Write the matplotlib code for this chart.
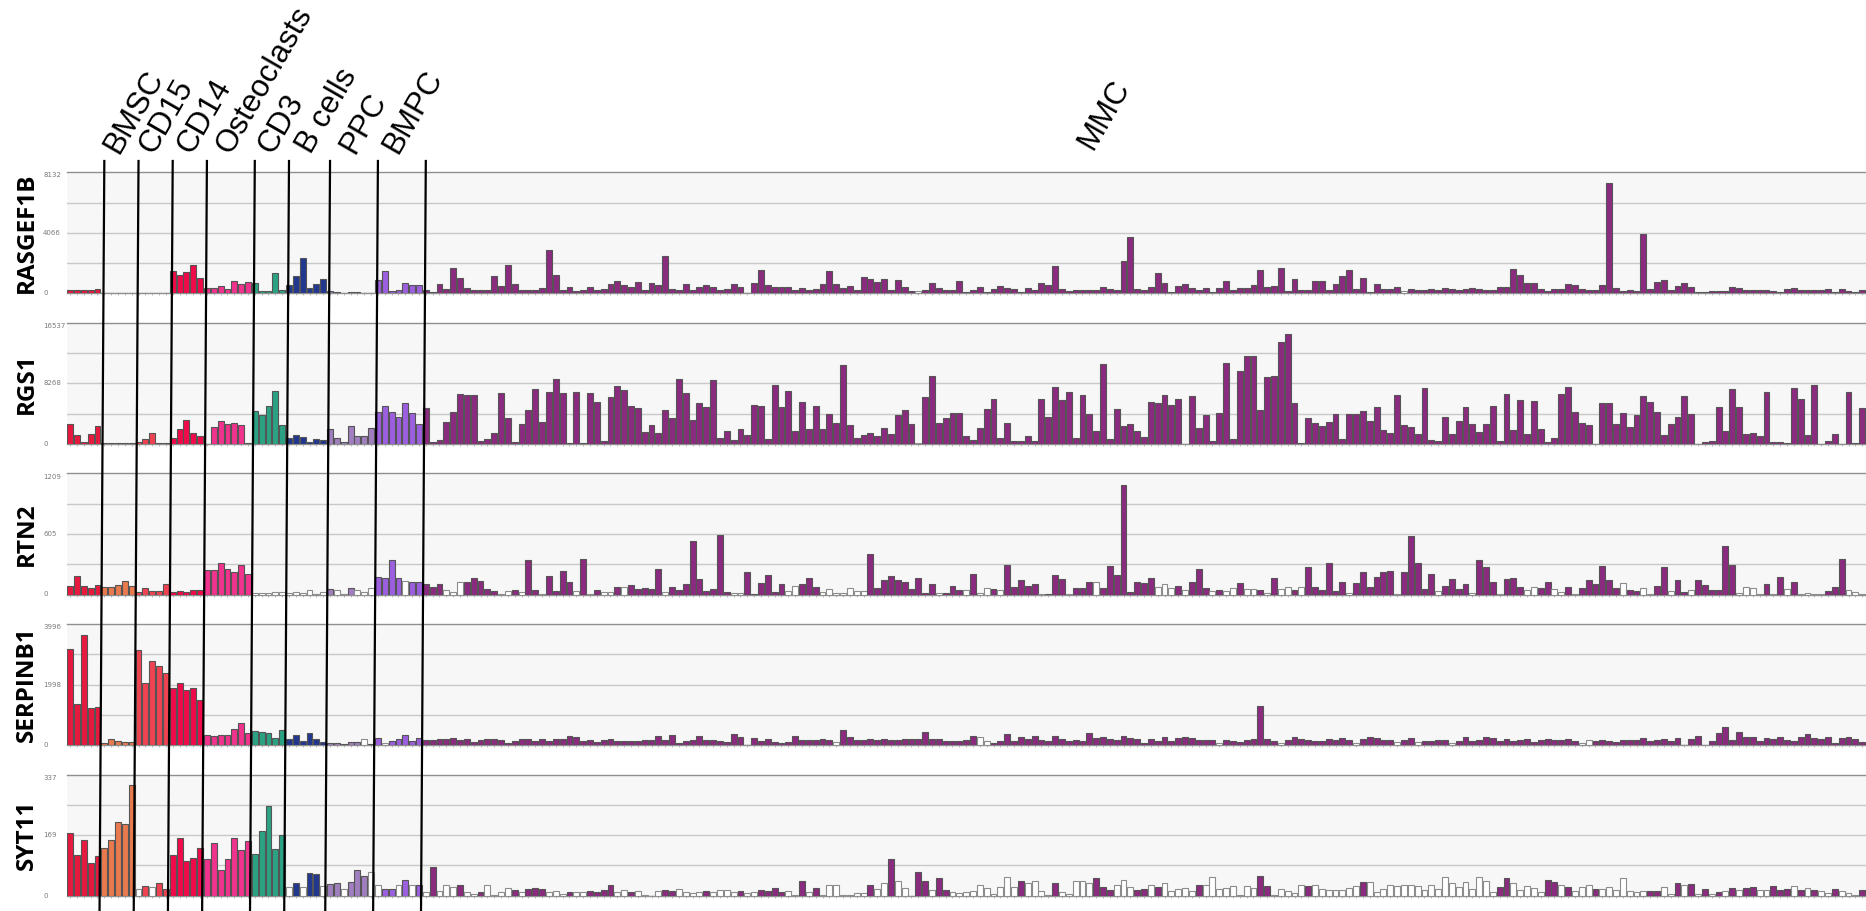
import numpy as np
import matplotlib
matplotlib.use('Agg')
import matplotlib.pyplot as plt
from matplotlib.transforms import blended_transform_factory
from matplotlib.lines import Line2D

# ---------------- data ----------------
genes = ["RASGEF1B", "RGS1", "RTN2", "SERPINB1", "SYT11"]
y_max = [8132, 16537, 1209, 3996, 337]
y_mid_label = ["4066", "8268", "605", "1998", "169"]
y_top_label = ["8132", "16537", "1209", "3996", "337"]

group_names = ["", "BMSC", "CD15", "CD14", "Osteoclasts", "CD3", "B cells", "PPC", "BMPC", "MMC"]
group_sizes = [5, 5, 5, 5, 7, 5, 6, 7, 7, 211]
group_colors = ["#E8193E", "#E97A4E", "#F04352", "#F00A4A", "#F0338C",
                "#2BA383", "#22388F", "#A07FBE", "#9C5FE0", "#8A2B7F"]

RASGEF1B = [225, 200, 200, 225, 290, 40, 15, 15, 15, 15, 20, 45, 25, 45, 25,
            1530, 1240, 1400, 1935, 1060, 380, 360, 495, 315, 830, 650, 765,
            700, 160, 160, 1370, 225, 540, 1190, 2385, 340, 650, 970,
            160, 90, 10, 70, 70, 20, 20, 920, 1530, 160, 225, 675, 560, 560,
            250, 60, 630, 280, 1730, 1000, 350, 190, 220, 220, 1130, 500, 1920, 630, 220, 190, 220, 350, 2890, 1260,
            220, 410, 160, 220, 410, 190, 280, 600, 850, 570, 440, 750, 220, 660, 530, 2510, 280, 190, 630, 250,
            440, 530, 410, 190, 280, 630, 410, 30, 690, 1570, 530, 440, 440,
            440, 250, 380, 220, 280, 600, 1510, 630, 380, 500, 220, 1100, 970, 750, 940, 190, 880, 410, 160, 160,
            220, 720, 380, 190, 220, 820, 60, 220, 410, 60, 310, 500, 350, 280, 90, 350, 190, 690, 530, 1820,
            280, 130, 190, 250, 250, 220, 440, 310, 190, 2140, 3770, 280, 190, 410,
            1380, 690, 60, 470, 600, 350, 190, 350, 60, 350, 850, 190, 350, 350, 570, 1540, 410, 500, 1730, 130,
            970, 250, 190, 820, 820, 220, 630, 1160, 1570, 310, 1040, 90, 600, 310, 310, 410, 160, 280, 220, 220,
            310, 190, 380, 310, 190, 310, 350, 280, 190, 220, 440, 440, 1600,
            1220, 660, 690, 280, 160, 310, 280, 600, 530, 280, 190, 220, 570, 7410, 350, 160, 190, 160, 3990, 280,
            750, 880, 190, 500, 660, 440, 90, 90, 160, 130, 130, 410, 350, 190, 190, 250, 190, 160, 90, 280,
            350, 220, 220, 220, 220, 280, 60, 280, 160, 90, 190]

RGS1 = [2680, 1180, 320, 1410, 2410, 90, 90, 90, 90, 90, 270, 730, 1450, 140, 180,
        860, 2090, 3310, 1450, 1090, 45, 2360, 3180, 2680, 2910, 2590, 90,
        4540, 4000, 5180, 7260, 2590, 860, 1270, 950, 320, 730, 500,
        2090, 860, 320, 2500, 1140, 1140, 2220, 4360, 5220, 4400, 3630, 5630, 4220, 2680,
        4920, 320, 510, 2940, 4410, 6830, 6700, 6700, 450, 640, 1530, 6960, 3510, 320, 2680, 4660, 7530, 2940, 7150, 8880,
        7020, 130, 7090, 130, 7020, 5750, 450, 6450, 7920, 7340, 5170, 4920, 1660, 2620, 1530, 4600, 3510, 8810, 6900, 3260,
        5620, 4980, 8750, 830, 1790, 510, 1980, 1280, 5360, 5170, 640, 8050, 4980,
        7220, 1790, 5750, 2040, 5170, 2040, 4150, 2810, 10730, 2620, 770, 1280, 1530, 1020, 2170, 1400, 3890, 4660, 2680, 60,
        6450, 9260, 2810, 3510, 4280, 4280, 1090, 510, 2170, 4790, 6070, 830, 2810, 380, 380, 1090, 450, 6190, 3700, 7730,
        6000, 7090, 830, 6700, 4020, 1790, 10980, 700, 4790, 2490, 2750, 1720, 960, 5750,
        5550, 6640, 5300, 6130, 0, 6510, 2230, 3890, 450, 4280, 11110, 640, 9960, 12000, 12000, 4660, 9130, 9320, 13980, 15070,
        5620, 60, 3510, 2810, 2490, 3000, 4150, 640, 4090, 4090, 4470, 3190, 5040, 1850, 1470, 6640, 2550, 2360, 1400, 7660,
        570, 380, 3700, 1340, 3190, 5040, 2750, 1660, 2680, 5170, 450, 6770, 1920,
        6000, 1340, 5810, 1980, 320, 770, 6830, 7790, 4410, 2810, 2550, 0, 5550, 5550, 2750, 4280, 2300, 3890, 6510, 5750,
        4410, 1150, 2750, 3640, 6510, 4020, 0, 260, 450, 5040, 1790, 7470, 5040, 1400, 1470, 1090, 7090, 260, 320, 130,
        7660, 6070, 1150, 8050, 0, 380, 1340, 0, 7090, 130, 4850]

RTN2 = [87, 186, 80, 63, 90, 70, 70, 97, 130, 80, 27, 63, 37, 30, 103,
        20, 37, 20, 43, 43, 240, 240, 313, 253, 226, 290, 200,
        17, 17, 17, 20, 27, 10, 20, 10, 40, 7, 23,
        53, 43, 3, 63, 40, 23, 60, 170, 163, 343, 166, 130, 127, 123,
        107, 70, 103, 42, 23, 121, 121, 168, 131, 51, 37, 9, 33, 47, 28, 345, 47, 9, 187, 37,
        233, 121, 33, 355, 5, 42, 28, 28, 75, 75, 93, 56, 61, 56, 257, 28, 75, 47, 103, 532,
        159, 33, 51, 593, 23, 19, 19, 229, 9, 117, 196, 23, 103,
        33, 89, 103, 168, 75, 28, 51, 19, 19, 61, 33, 33, 406, 65, 140, 187, 140, 121, 56, 168,
        19, 107, 19, 19, 84, 42, 42, 201, 19, 61, 51, 47, 299, 79, 149, 84, 103, 9, 5, 191,
        159, 5, 61, 61, 121, 121, 61, 280, 196, 1097, 28, 126, 112, 168,
        70, 103, 61, 89, 42, 121, 257, 65, 33, 42, 33, 65, 117, 56, 51, 42, 19, 163, 51, 79,
        42, 79, 275, 75, 47, 317, 37, 121, 19, 112, 224, 79, 177, 224, 238, 5, 229, 588, 317, 56,
        201, 33, 84, 154, 51, 107, 19, 341, 275, 121, 5, 159, 163,
        79, 42, 70, 65, 126, 51, 28, 75, 5, 61, 140, 107, 289, 145, 61, 112, 47, 37, 65, 9,
        84, 275, 33, 149, 23, 42, 145, 93, 42, 47, 481, 294, 19, 79, 65, 9, 107, 5, 177, 51,
        126, 9, 14, 5, 5, 33, 79, 355, 42, 28, 9]

SERPINB1 = [3175, 1370, 3645, 1240, 1270, 65, 185, 120, 100, 100, 3140, 2060, 2780, 2600, 2390,
            1895, 2035, 1805, 1895, 1480, 350, 285, 350, 350, 525, 735, 385,
            470, 440, 385, 250, 515, 210, 350, 140, 405, 195, 110,
            55, 75, 45, 100, 110, 185, 45, 220, 75, 120, 185, 320, 140, 220,
            170, 170, 200, 215, 245, 170, 215, 110, 170, 200, 215, 170, 75, 140, 200, 200, 140, 200, 140, 200,
            200, 295, 275, 140, 170, 110, 170, 215, 140, 140, 140, 140, 170, 170, 295, 170, 325, 60, 140, 170,
            295, 170, 170, 140, 110, 355, 275, 15, 245, 140, 200, 110, 75,
            110, 295, 170, 170, 170, 200, 170, 110, 495, 275, 170, 170, 215, 170, 200, 170, 170, 200, 215, 215,
            430, 200, 215, 140, 140, 140, 170, 295, 275, 140, 60, 140, 355, 140, 275, 200, 295, 170, 140, 295,
            200, 140, 170, 140, 415, 245, 275, 215, 170, 295, 245, 215, 60, 185,
            140, 275, 140, 245, 260, 245, 170, 170, 170, 75, 170, 140, 110, 170, 215, 1295, 200, 140, 60, 170,
            275, 200, 170, 140, 140, 200, 170, 230, 170, 75, 200, 275, 245, 170, 170, 110, 170, 245, 110, 140,
            140, 170, 170, 60, 140, 275, 140, 170, 275, 245, 140, 215, 140,
            170, 200, 110, 170, 215, 170, 155, 200, 140, 60, 155, 140, 170, 140, 110, 155, 170, 155, 245, 140,
            170, 215, 140, 245, 15, 215, 295, 15, 140, 415, 600, 170, 430, 275, 275, 140, 245, 215, 275, 170,
            140, 275, 355, 245, 200, 275, 60, 245, 275, 200, 110]

SYT11 = [176, 114, 156, 92, 110, 134, 156, 206, 201, 307, 19, 28, 24, 36, 19,
         114, 160, 97, 104, 133, 101, 148, 72, 103, 161, 128, 153,
         117, 179, 251, 131, 168, 23, 34, 24, 64, 61, 28,
         33, 36, 19, 38, 72, 56, 67, 30, 19, 19, 30, 45, 30, 30,
         9, 81, 12, 29, 25, 29, 9, 5, 9, 29, 3, 9, 22, 16, 9, 18, 21, 20, 9, 12,
         5, 9, 9, 9, 12, 9, 16, 29, 9, 16, 9, 12, 3, 0, 12, 16, 12, 20, 9, 7,
         9, 12, 9, 16, 16, 9, 12, 7, 9, 16, 12, 21, 9,
         14, 3, 42, 9, 22, 3, 31, 29, 3, 3, 7, 7, 31, 20, 35, 103, 40, 22, 0, 65,
         42, 16, 48, 17, 9, 7, 9, 13, 31, 22, 5, 25, 51, 25, 42, 35, 42, 14, 3, 35,
         9, 5, 42, 42, 35, 48, 25, 16, 31, 44, 25, 16, 20, 31,
         24, 34, 12, 20, 22, 13, 31, 30, 51, 20, 22, 26, 3, 26, 22, 55, 27, 3, 18, 13,
         7, 29, 26, 31, 20, 17, 17, 17, 22, 26, 39, 38, 9, 20, 31, 26, 29, 29, 26, 16,
         29, 20, 51, 35, 25, 38, 18, 51, 42, 9, 25, 48, 34,
         16, 26, 22, 9, 44, 39, 29, 25, 12, 25, 31, 20, 18, 25, 16, 48, 14, 9, 12, 12,
         13, 25, 5, 35, 29, 33, 5, 20, 5, 9, 14, 22, 16, 21, 25, 16, 16, 26, 16, 20,
         26, 17, 21, 16, 13, 7, 20, 12, 7, 3, 16]

# indices of samples drawn as open (white) bars: pre-MMC indices, then MMC-relative
white_pre = {
    "RASGEF1B": [],
    "RGS1": [],
    "RTN2": [27, 28, 29, 30, 31, 32, 33, 34, 35, 36, 37, 39, 40, 42, 43, 44, 49],
    "SERPINB1": [43, 46],
    "SYT11": [10, 12, 32, 34, 37, 40, 44, 45, 48, 50],
}
white_mmc = {
    "RASGEF1B": [72, 143],
    "RGS1": [72],
    "RTN2": [3, 4, 5, 11, 12, 14, 17, 22, 24, 26, 27, 29, 35, 45, 46,
             53, 54, 58, 59, 60, 61, 62, 63, 64, 75, 79, 81, 82, 84, 90, 94, 98,
             107, 108, 109, 111, 115, 117, 118, 120, 121, 123, 125, 126, 128, 135, 142, 148, 153, 157,
             161, 162, 165, 166, 168, 175, 178, 179, 182, 185, 192, 193, 194, 195, 197, 199,
             201, 202, 203, 204, 208, 209, 210],
    "SERPINB1": [60, 81, 82, 116, 125, 136, 142, 145, 150, 169, 170],
    "SYT11": [0, 2, 3, 4, 6, 7, 9, 10, 11, 12, 14, 18, 19, 20, 22, 23, 28, 29, 31, 32, 33, 34,
              37, 38, 39, 40, 42, 43, 44, 45, 47, 48,
              53, 54, 56, 58, 59, 60, 61, 62, 63, 64, 66, 67, 69, 70, 71, 74, 77, 78, 79, 80, 81,
              82, 83, 84, 85, 86, 88, 89, 90, 91, 93, 94, 95, 96, 97, 101, 102, 103, 106,
              108, 109, 110, 111, 112, 114, 115, 116, 117, 118, 119, 120, 121, 124, 125, 126, 127,
              128, 130, 131, 132, 133, 134, 135, 136, 138, 139, 140, 141, 142, 143, 144, 145, 146,
              147, 148, 149, 150, 151, 152, 153, 154, 155, 156, 159,
              160, 161, 162, 163, 166, 168, 169, 170, 172, 173, 174, 175, 176, 177, 178, 181, 182,
              184, 186, 188, 190, 192, 195, 196, 200, 202, 204, 205, 207, 208, 209],
}

series = {"RASGEF1B": RASGEF1B, "RGS1": RGS1, "RTN2": RTN2, "SERPINB1": SERPINB1, "SYT11": SYT11}

# ---------------- figure ----------------
W, H = 1866, 911
fig = plt.figure(figsize=(W / 100, H / 100), dpi=100)
fig.patch.set_facecolor("white")

n_bars = sum(group_sizes)
x = np.arange(n_bars)
group_of = np.repeat(np.arange(len(group_sizes)), group_sizes)
n_pre = sum(group_sizes[:-1])

left_px = 66.7
bar_px = (W - left_px) / (n_bars + 0.05)
axes = []
for i, g in enumerate(genes):
    top_px = 172.3 + 150.6 * i
    h_px = 121.0
    ax = fig.add_axes([left_px / W, 1 - (top_px + h_px) / H, 1 - left_px / W, h_px / H])
    axes.append(ax)
    vals = np.array(series[g], dtype=float)
    assert len(vals) == n_bars, (g, len(vals))
    whites = set(white_pre[g]) | {n_pre + j for j in white_mmc[g]}
    fc = [("white" if k in whites else group_colors[group_of[k]]) for k in x]
    ec = [("#8c8c8c" if k in whites else "#555555") for k in x]
    ax.set_facecolor("#f7f7f7")
    ax.bar(x, vals, width=0.86, color=fc, edgecolor=ec, linewidth=0.8, zorder=3)
    ax.set_xlim(-0.5, n_bars - 0.45)
    ax.set_ylim(0, y_max[i])
    ax.set_yticks([y_max[i] / 4, y_max[i] / 2, 3 * y_max[i] / 4])
    ax.yaxis.grid(True, color="#c9c9c9", linewidth=1.0, zorder=0)
    ax.tick_params(axis="y", length=0, labelleft=False)
    ax.set_xticks(x)
    ax.tick_params(axis="x", length=1.6, width=0.5, color="#a0a0a0", labelbottom=False)
    for s in ["left", "right"]:
        ax.spines[s].set_visible(False)
    for s in ["top", "bottom"]:
        ax.spines[s].set_color("#8f8f8f")
        ax.spines[s].set_linewidth(1.0)
    tr = blended_transform_factory(fig.transFigure, ax.transData)
    lbl = dict(transform=tr, fontsize=5, color="#7a7a7a", ha="left", va="center",
               family="DejaVu Sans")
    ax.text(43 / W, y_max[i] * 0.975, y_top_label[i], **lbl)
    ax.text(43 / W, y_max[i] / 2, y_mid_label[i], **lbl)
    ax.text(43 / W, 0, "0", **lbl)
    fig.text(27 / W, 1 - (top_px + h_px / 2) / H, g, rotation=90, fontsize=17.5,
             fontweight="bold", family="Open Sans", ha="center", va="center")

# separator lines spanning all panels
trl = blended_transform_factory(axes[0].transData, fig.transFigure)
bounds = np.cumsum(group_sizes)[:-1] - 0.5
line_top = 1 - 161 / H
for b in bounds:
    fig.add_artist(Line2D([b - 0.2, b + 0.5], [0, line_top], color="black",
                          linewidth=1.6, transform=trl, clip_on=False))

# group labels
label_off = [2.6, 2.7, 3.3, 4.0, 3.1, 3.7, 4.0, 3.3]
for name, b, off in zip(group_names[1:-1], bounds, label_off):
    fig.text(b + off, 1 - 155 / H, name, transform=trl, rotation=60,
             rotation_mode="anchor", ha="left", va="baseline", fontsize=22.5,
             family="Liberation Sans")
mmc_x = (1092 - left_px) / bar_px - 0.5
fig.text(mmc_x, 1 - 151 / H, group_names[-1], transform=trl, rotation=60,
         rotation_mode="anchor", ha="left", va="baseline", fontsize=22.5,
         family="Liberation Sans")

fig.savefig("out.png", dpi=100, facecolor="white")
